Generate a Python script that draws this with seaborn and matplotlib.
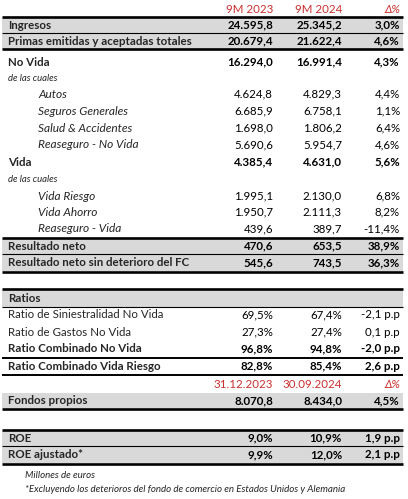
import matplotlib
matplotlib.use("Agg")
import matplotlib.pyplot as plt
import seaborn as sns

# ### Data (millones de euros)
period_cols = ["9M 2023", "9M 2024", "\u0394%"]
balance_cols = ["31.12.2023", "30.09.2024", "\u0394%"]

main_labels = ["Ingresos", "Primas emitidas y aceptadas totales", "No Vida", "de las cuales",
               "Autos", "Seguros Generales", "Salud & Accidentes", "Reaseguro - No Vida",
               "Vida", "de las cuales", "Vida Riesgo", "Vida Ahorro", "Reaseguro - Vida",
               "Resultado neto", "Resultado neto sin deterioro del FC"]
main_kind = ["bold", "bold", "bold", "note", "sub", "sub", "sub", "sub",
             "bold", "note", "sub", "sub", "sub", "bold", "bold"]
main_2023 = [24595.8, 20679.4, 16294.0, None, 4624.8, 6685.9, 1698.0, 5690.6,
             4385.4, None, 1995.1, 1950.7, 439.6, 470.6, 545.6]
main_2024 = [25345.2, 21622.4, 16991.4, None, 4829.3, 6758.1, 1806.2, 5954.7,
             4631.0, None, 2130.0, 2111.3, 389.7, 653.5, 743.5]
main_delta = [3.0, 4.6, 4.3, None, 4.4, 1.1, 6.4, 4.6, 5.6, None, 6.8, 8.2, -11.4, 38.9, 36.3]

ratio_labels = ["Ratio de Siniestralidad No Vida", "Ratio de Gastos No Vida",
                "Ratio Combinado No Vida", "Ratio Combinado Vida Riesgo"]
ratio_bold = [False, False, True, True]
ratio_2023 = [69.5, 27.3, 96.8, 82.8]
ratio_2024 = [67.4, 27.4, 94.8, 85.4]
ratio_delta_pp = [-2.1, 0.1, -2.0, 2.6]

equity_label = "Fondos propios"
equity_2023 = 8070.8
equity_2024 = 8434.0
equity_delta = 4.5

roe_labels = ["ROE", "ROE ajustado*"]
roe_2023 = [9.0, 9.9]
roe_2024 = [10.9, 12.0]
roe_delta_pp = [1.9, 2.1]

notes = ["Millones de euros",
         "*Excluyendo los deterioros del fondo de comercio en Estados Unidos y Alemania"]


def es(v, d=1):
    s = f"{v:,.{d}f}"
    return s.replace(",", "X").replace(".", ",").replace("X", ".")


# ### Style
sns.set_theme(style="white")
plt.rcParams["font.family"] = ["Lato", "DejaVu Sans"]
FS = 8.3
FS_SUB = 8.6
RED = "#c8302f"
GRAY = "#d9d9d9"
X0, X1 = 2, 403
XL, XS = 8, 38
C1, C2, C3 = 273, 342, 400

fig = plt.figure(figsize=(4.08, 4.99), dpi=100)
ax = fig.add_axes([0, 0, 1, 1])
ax.set_xlim(0, 408)
ax.set_ylim(499, 0)
ax.axis("off")


def band(y0, y1):
    ax.fill_between([X0, X1], y0, y1, color=GRAY, lw=0, zorder=0)


def rule(y, lw):
    ax.plot([X0, X1], [y, y], color="black", lw=lw, solid_capstyle="butt", zorder=2)


def cells(y, vals, weight="normal"):
    for x, v in zip([C1, C2, C3], vals):
        ax.text(x, y, v, ha="right", va="center", fontsize=FS, fontweight=weight, color="black")


def header(y, cols):
    for x, c in zip([C1, C2, C3], cols):
        st = "italic" if c.startswith("\u0394") else "normal"
        ax.text(x, y, c, ha="right", va="center", fontsize=FS, color=RED, fontstyle=st)


# ### Main block
header(9, period_cols)
main_y = [25, 41, 62, 78, 94, 111, 128, 145, 162, 179, 196, 212, 229, 246, 263]
for yb in [(18, 32.5), (33.5, 48.5), (239, 253.5), (254.5, 271)]:
    band(*yb)
for yl, lw in [(17, 1.9), (33, 0.8), (49, 1.9), (238, 1.9), (254, 0.8), (272, 1.9)]:
    rule(yl, lw)

for y, lab, kind, a, b, d in zip(main_y, main_labels, main_kind, main_2023, main_2024, main_delta):
    if kind == "note":
        ax.text(XL, y, lab, ha="left", va="center", fontsize=6.8, fontstyle="italic")
        continue
    if kind == "sub":
        ax.text(XS, y, lab, ha="left", va="center", fontsize=FS_SUB, fontstyle="italic")
        cells(y, [es(a), es(b), es(d) + "%"])
    else:
        ax.text(XL, y, lab, ha="left", va="center", fontsize=FS, fontweight="bold")
        cells(y, [es(a), es(b), es(d) + "%"], weight="bold")

# ### Ratios block
band(290, 306.5)
for yl, lw in [(289, 1.9), (307, 0.8), (358, 1.4), (375, 1.4)]:
    rule(yl, lw)
ax.text(XL, 298, "Ratios", ha="left", va="center", fontsize=FS, fontweight="bold")
ratio_y = [315, 332, 349, 366]
for y, lab, bo, a, b, d in zip(ratio_y, ratio_labels, ratio_bold, ratio_2023, ratio_2024, ratio_delta_pp):
    w = "bold" if bo else "normal"
    ax.text(XL, y, lab, ha="left", va="center", fontsize=FS, fontweight=w)
    cells(y, [es(a) + "%", es(b) + "%", es(d) + " p.p"], weight=w)

# ### Equity block
header(384, balance_cols)
band(393, 408)
rule(409, 1.9)
ax.text(XL, 401, equity_label, ha="left", va="center", fontsize=FS, fontweight="bold")
cells(401, [es(equity_2023), es(equity_2024), es(equity_delta) + "%"], weight="bold")

# ### ROE block
band(431, 445.5)
band(446.5, 463)
for yl, lw in [(430, 1.9), (446, 0.8), (464, 1.9)]:
    rule(yl, lw)
for y, lab, a, b, d in zip([438, 455], roe_labels, roe_2023, roe_2024, roe_delta_pp):
    ax.text(XL, y, lab, ha="left", va="center", fontsize=FS, fontweight="bold")
    cells(y, [es(a) + "%", es(b) + "%", es(d) + " p.p"], weight="bold")

for y, n in zip([476, 490], notes):
    ax.text(25, y, n, ha="left", va="center", fontsize=7.0, fontstyle="italic")

fig.savefig("out.png", dpi=100)
